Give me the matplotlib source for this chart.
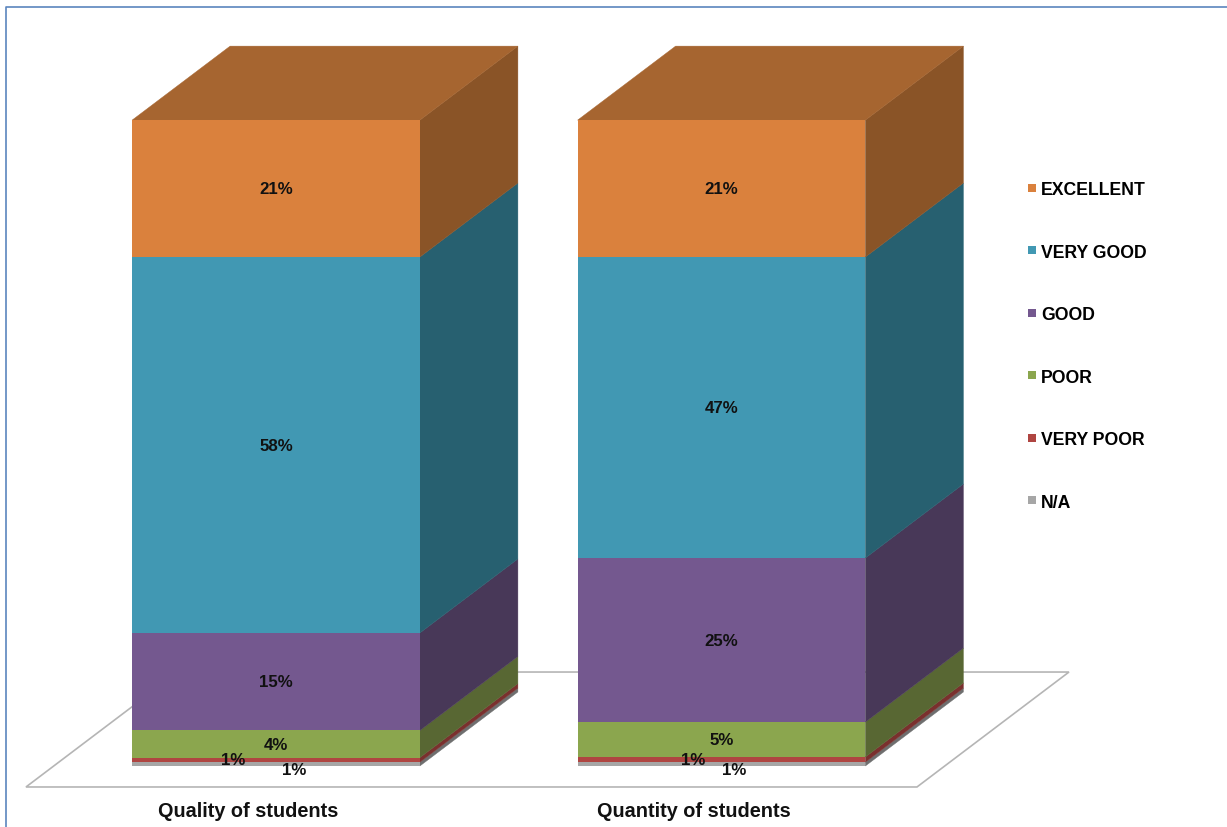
import numpy as np
import matplotlib
matplotlib.use('Agg')
import matplotlib.pyplot as plt
from matplotlib.lines import Line2D
from matplotlib.patches import Polygon

plt.rcParams['font.family'] = ['Liberation Sans', 'DejaVu Sans']

categories = ['Quality of students', 'Quantity of students']
ratings = ['N/A', 'VERY POOR', 'POOR', 'GOOD', 'VERY GOOD', 'EXCELLENT']

# percent of answers, stacked from the bottom up
na = [0.6, 0.6]
very_poor = [0.7, 0.8]
poor = [4.2, 5.4]
good = [15.1, 25.4]
very_good = [58.2, 46.6]
excellent = [21.2, 21.2]
series = [na, very_poor, poor, good, very_good, excellent]

front_colors = ['#A6A6A6', '#AF4541', '#8BA64E', '#74588F', '#4198B3', '#DA813D']
side_colors = ['#6E6E6E', '#7A302E', '#586733', '#483858', '#276070', '#8A5427']
top_color = '#A66530'

fig = plt.figure(figsize=(12.27, 8.28), dpi=100)
ax = fig.add_axes([0, 0, 1, 1])
ax.set_xlim(-0.6195, 2.1347)
ax.set_ylim(-9.445, 118.755)
ax.axis('off')

bar_width = 0.646
depth_x = 0.22
depth_y = 11.46
x = np.arange(len(categories))

# floor of the 3d box, behind the columns
floor = Polygon([(-0.5612, -3.25), (1.4388, -3.25), (1.78, 14.55), (-0.22, 14.55)],
                closed=True, facecolor='white', edgecolor='#B5B5B5', lw=1.2, zorder=1)
ax.add_patch(floor)

# stacked columns: front face from bar(), side faces pushed back by the depth
bottom = np.zeros(len(categories))
for vals, fc, sc, name in zip(series, front_colors, side_colors, ratings):
    vals = np.array(vals)
    ax.bar(x, vals, bar_width, bottom=bottom, color=fc, linewidth=0, zorder=3, label=name)
    for xi, b, v in zip(x, bottom, vals):
        xr = xi + bar_width / 2
        ax.add_patch(Polygon([(xr, b), (xr + depth_x, b + depth_y),
                              (xr + depth_x, b + v + depth_y), (xr, b + v)],
                             closed=True, facecolor=sc, edgecolor=sc, lw=0.3, zorder=2))
    bottom = bottom + vals

# top face
for xi, total in zip(x, bottom):
    xl = xi - bar_width / 2
    xr = xi + bar_width / 2
    ax.add_patch(Polygon([(xl, total), (xr, total), (xr + depth_x, total + depth_y),
                          (xl + depth_x, total + depth_y)],
                         closed=True, facecolor=top_color, edgecolor=top_color, lw=0.3, zorder=2))

# value labels, the two thin segments are pushed apart so they stay readable
nudges = {(0, 0): (18, -5), (0, 1): (-43, 0), (1, 0): (13, -5), (1, 1): (-28, 0)}
bottom = np.zeros(len(categories))
for s, vals in enumerate(series):
    for i, v in enumerate(vals):
        ax.annotate(f'{v:.0f}%', (x[i], bottom[i] + v / 2),
                    xytext=nudges.get((i, s), (0, 0)), textcoords='offset pixels',
                    ha='center', va='center', fontsize=12.2, fontweight='bold',
                    color='#111111', zorder=5)
    bottom = bottom + np.array(vals)

# category names under the floor
for xi, name in zip(x, categories):
    ax.annotate(name, (xi, 0), xytext=(-28, -45), textcoords='offset pixels',
                ha='center', va='center', fontsize=14.3, fontweight='bold', color='#111111')

handles = [Line2D([], [], linestyle='none', marker='s', markersize=6, markeredgewidth=0, color=c)
           for c in front_colors[::-1]]
ax.legend(handles, ratings[::-1], loc='upper left', bbox_to_anchor=(1027 / 1227, 1 - 182 / 828),
          frameon=False, labelspacing=2.58, handlelength=0.55, handletextpad=0.25,
          borderpad=0, borderaxespad=0, prop={'weight': 'bold', 'size': 12.7})

# thin slide border on the left and top
fig.add_artist(Line2D([5.5 / 1227, 5.5 / 1227, 1], [0, 1 - 7.5 / 828, 1 - 7.5 / 828],
                      color='#5B85BE', lw=1.2))

fig.savefig('out.png', dpi=100)
